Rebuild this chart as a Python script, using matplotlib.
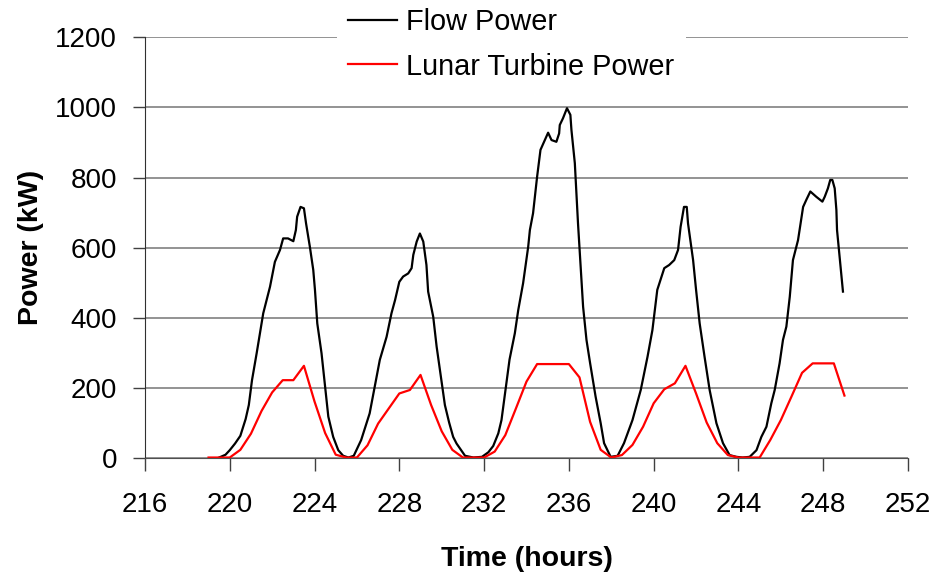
# Flow power vs lunar turbine power over a tidal record (hours 216-252)
import matplotlib
matplotlib.use("Agg")
import matplotlib.pyplot as plt

plt.rcParams["font.family"] = ["Liberation Sans", "DejaVu Sans"]

# flow power (kW)
flow_t = [219.5, 219.8, 220.0, 220.25, 220.5, 220.75, 220.9, 221.05, 221.27,
          221.58, 221.9, 222.13, 222.37, 222.52, 222.75, 223.0, 223.12,
          223.18, 223.34, 223.5, 223.6, 223.78, 223.94, 224.02, 224.13,
          224.33, 224.5, 224.65, 224.88, 225.12, 225.35, 225.6, 225.85,
          226.2, 226.6, 227.08, 227.4, 227.63, 227.8, 228.0, 228.18, 228.42,
          228.58, 228.66, 228.82, 228.97, 229.13, 229.28, 229.36, 229.6,
          229.76, 229.94, 230.15, 230.35, 230.54, 230.7, 230.86, 231.1,
          231.5, 231.9, 232.2, 232.43, 232.67, 232.82, 233.0, 233.2, 233.45,
          233.61, 233.84, 234.08, 234.16, 234.31, 234.5, 234.66, 234.85,
          235.02, 235.18, 235.41, 235.54, 235.57, 235.72, 235.91, 236.07,
          236.12, 236.28, 236.43, 236.67, 236.83, 237.0, 237.26, 237.5,
          237.66, 237.97, 238.3, 238.6, 239.0, 239.39, 239.71, 239.94,
          240.17, 240.5, 240.73, 240.97, 241.15, 241.27, 241.43, 241.56,
          241.62, 241.86, 242.0, 242.17, 242.4, 242.64, 242.96, 243.27,
          243.58, 243.9, 244.2, 244.53, 244.85, 245.08, 245.32, 245.55,
          245.71, 245.94, 246.1, 246.26, 246.42, 246.57, 246.81, 247.05,
          247.2, 247.39, 247.67, 247.96, 248.07, 248.22, 248.33, 248.43,
          248.54, 248.62, 248.65, 248.77, 248.85, 248.93]
flow_kw = [0, 8, 21, 40, 62, 110, 150, 221, 298,
           412, 488, 559, 593, 626, 626, 618, 650,
           688, 716, 712, 669, 602, 536, 479, 383,
           298, 202, 117, 59, 21, 5, 0, 5,
           50, 126, 279, 345, 412, 450, 502, 517, 526,
           541, 579, 617, 640, 617, 550, 474, 402,
           317, 240, 150, 100, 59, 40, 26, 5,
           0, 2, 15, 33, 69, 107, 188, 280, 355,
           421, 498, 602, 650, 698, 802, 879, 905,
           928, 907, 902, 926, 950, 969, 998, 979,
           936, 841, 669, 431, 336, 270, 174, 98,
           41, 2, 5, 41, 107, 193, 288, 364,
           479, 541, 550, 564, 593, 659, 716, 716,
           669, 564, 479, 383, 288, 193, 98, 41,
           7, 2, 0, 2, 21, 59, 88, 155,
           193, 269, 336, 374, 459, 564, 621, 716,
           736, 760, 745, 731, 745, 769, 793, 793,
           769, 707, 650, 574, 526, 474]

# lunar turbine power (kW), half-hourly
turb_t = [219.0, 219.5, 220.0, 220.5, 221.0, 221.5, 222.0, 222.5, 223.0,
          223.5, 224.0, 224.5, 225.0, 225.5, 226.0, 226.5, 227.0, 227.5,
          228.0, 228.5, 229.0, 229.5, 230.0, 230.5, 231.0, 231.5, 232.0,
          232.5, 233.0, 233.5, 234.0, 234.5, 235.0, 235.5, 236.0, 236.5,
          237.0, 237.5, 238.0, 238.5, 239.0, 239.5, 240.0, 240.5, 241.0,
          241.5, 242.0, 242.5, 243.0, 243.5, 244.0, 244.5, 245.0, 245.5,
          246.0, 246.5, 247.0, 247.5, 248.0, 248.5, 249.0]
turb_kw = [0, 0, 0, 22, 68, 133, 186, 221, 221,
           262, 160, 70, 8, 0, 0, 35, 97, 140,
           183, 193, 236, 150, 75, 22, 0, 0, 0,
           17, 64, 140, 217, 267, 267, 267, 267, 229,
           102, 22, 0, 7, 36, 88, 155, 195, 212,
           262, 183, 100, 41, 7, 0, 0, 0, 50,
           107, 174, 242, 269, 269, 269, 177]

x_ticks = list(range(216, 253, 4))
y_ticks = list(range(0, 1201, 200))

fig = plt.figure(figsize=(9.34, 5.75), dpi=100)
ax = fig.add_axes([0.1552, 0.2043, 0.817, 0.7305])

ax.plot(flow_t, flow_kw, color="black", lw=1.6, label="Flow Power")
ax.plot(turb_t, turb_kw, color="red", lw=1.6, label="Lunar Turbine Power")

ax.set_xlim(216, 252)
ax.set_ylim(0, 1200)
ax.set_xticks(x_ticks)
ax.set_yticks(y_ticks)
ax.grid(axis="y", color="#808080", lw=1.2)
ax.set_axisbelow(True)
for s in ("top", "right"):
    ax.spines[s].set_visible(False)
ax.spines["left"].set_color("#303030")
ax.spines["bottom"].set_color("#505050")
ax.tick_params(axis="both", direction="out", length=9, width=1,
               color="#404040", labelsize=20)
ax.tick_params(axis="y", pad=11)
ax.tick_params(axis="x", pad=16)

ax.set_xlabel("Time (hours)", fontsize=20.5, fontweight="bold", labelpad=20)
ax.set_ylabel("Power (kW)", fontsize=20.5, fontweight="bold", labelpad=8)

leg = ax.legend(loc="center", bbox_to_anchor=(0.5476, 0.9231),
                bbox_transform=fig.transFigure, fontsize=20.8, frameon=True,
                fancybox=False, framealpha=1, edgecolor="none",
                facecolor="white", handlelength=1.7, handletextpad=0.31,
                labelspacing=0.58, borderpad=0.38)

fig.savefig("out.png", dpi=100)
